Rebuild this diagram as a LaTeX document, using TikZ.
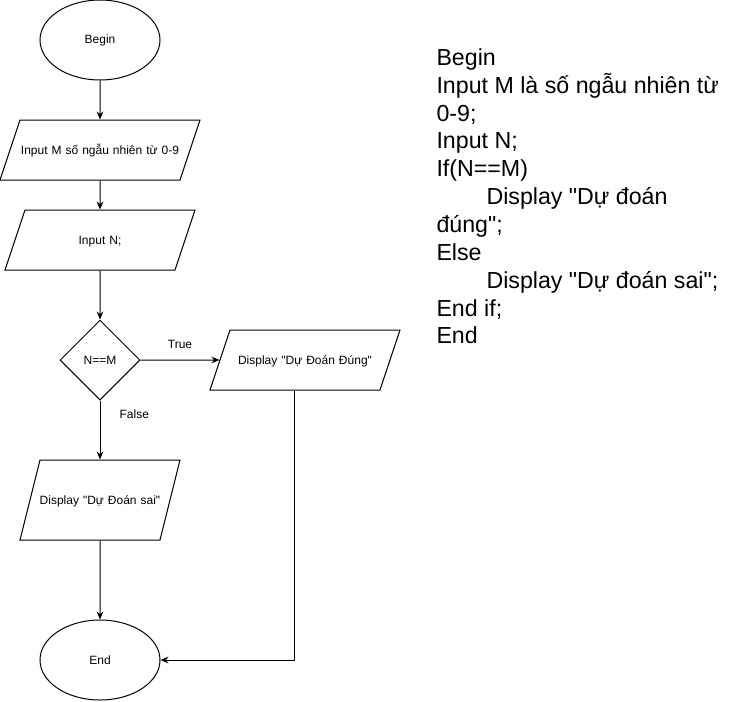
\documentclass[tikz,border=0pt]{standalone}
\usepackage{fontspec}
\setmainfont{Liberation Sans}
\usetikzlibrary{positioning, shapes.geometric, arrows.meta}

\begin{document}
\begin{tikzpicture}[x=0.75pt, y=-0.75pt, line width=0.75pt,
  >={Stealth[length=6pt,width=5pt]},
  every node/.style={font=\fontsize{9}{11}\selectfont},
  term node/.style={ellipse,draw,minimum width=90pt,minimum height=60pt,inner sep=0pt},
  io node/.style={trapezium,draw,trapezium left angle=71.565,trapezium right angle=108.435,
    inner sep=0pt,align=center,text width=112.5pt,text height=25.7pt,text depth=19.3pt},
  tall io/.style={trapezium left angle=75.964,trapezium right angle=104.036,
    text height=33.2pt,text depth=26.8pt},
  cond node/.style={diamond,draw,minimum width=60pt,minimum height=60pt,inner sep=0pt}]

\useasboundingbox (0,0) rectangle (731,701);

\node[term node] (begin) at (100,40) {Begin};
\node[io node, text width=120pt] (in1) at (100,150) {Input M số ngẫu nhiên từ 0-9};
\node[io node] (in2) at (100,240) {Input N;};
\node[cond node] (dec) at (100,360) {N==M};
\node[io node] (yes) at (305,360) {Display \textquotedbl Dự Đoán Đúng\textquotedbl};
\node[io node, tall io, text width=90pt] (no) at (100,500)
  {\makebox[90pt][c]{Display \textquotedbl Dự Đoán sai\textquotedbl}};
\node[term node] (end) at (100,660) {End};

\node[anchor=north west, align=left, inner sep=0pt,
  font=\fontsize{17.4}{20.9}\selectfont] (code) at (436,48)
  {Begin\\
   Input M là số ngẫu nhiên từ\\
   0-9;\\
   Input N;\\
   If(N==M)\\
   \hspace*{37.5pt}Display \textquotedbl Dự đoán\\
   đúng\textquotedbl;\\
   Else\\
   \hspace*{37.5pt}Display \textquotedbl Dự đoán sai\textquotedbl;\\
   End if;\\
   End};

\path[->]
(begin) edge (in1)
(in1) edge (in2)
(in2) edge (dec)
(dec) edge node [above=5pt] {True} (yes)
(dec) edge node [pos=0.23, right=11pt] {False} (no)
(no) edge (end)
;

\draw[->] (yes.bottom side) |- (end.east);
\end{tikzpicture}
\end{document}
